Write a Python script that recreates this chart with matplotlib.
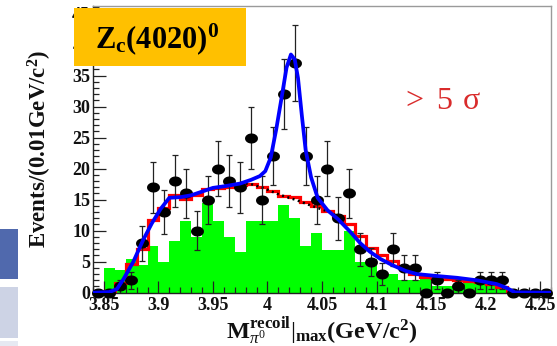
import numpy as np
import matplotlib
matplotlib.use("Agg")
import matplotlib.pyplot as plt
from matplotlib.patches import Rectangle
from matplotlib.ticker import MultipleLocator, FixedLocator, FixedFormatter

plt.rcParams['font.family'] = ['Liberation Serif', 'DejaVu Serif']
plt.rcParams['mathtext.fontset'] = 'custom'
plt.rcParams['mathtext.rm'] = 'Liberation Serif'
plt.rcParams['mathtext.bf'] = 'Liberation Serif:bold'
plt.rcParams['mathtext.it'] = 'Liberation Serif:italic'

# --- binning: 0.01 GeV/c^2 bins from 3.84 to 4.26 ---
bin_lo = 3.84
bin_width = 0.01
n_bins = 42

# observed events per bin
data_counts = [0, 0, 1, 2, 8, 17, 13, 18, 16, 10,
               15, 20, 18, 17, 25, 15, 22, 32, 37, 22,
               15, 20, 12, 16, 7, 5, 3, 7, 4, 4,
               0, 2, 0, 1, 0, 2, 2, 2, 0, 0,
               0, 0]

# sideband / non-resonant component (filled green)
green_counts = [0, 4.0, 3.6, 5.5, 4.5, 7.5, 4.9, 8.4, 11.6, 9.0,
                14.5, 11.6, 9.0, 6.5, 11.6, 11.6, 11.6, 14.1, 12.0, 7.5,
                9.6, 6.9, 6.9, 10.0, 4.9, 5.5, 3.0, 3.0, 2.0, 2.0,
                2.3, 1.0, 1.0, 1.0, 1.5, 1.5, 1.5, 1.0, 0, 0,
                0, 0]

# total background histogram (red outline)
red_counts = [0, 0.2, 1.5, 4.6, 7.1, 11.7, 13.7, 15.7, 15.1, 15.7,
              16.7, 16.8, 17.0, 17.4, 17.6, 17.1, 16.4, 15.6, 15.5, 14.7,
              14.0, 13.2, 12.3, 11.0, 9.2, 7.2, 6.0, 5.1, 4.1, 3.0,
              2.6, 2.4, 2.2, 2.1, 1.9, 1.7, 1.4, 0.9, 0, 0,
              0, 0]

# fit result: signal + background (blue)
fit_x = [3.840, 3.855, 3.862, 3.868, 3.877, 3.886, 3.894, 3.902, 3.910, 3.920,
         3.930, 3.940, 3.950, 3.962, 3.975, 3.985, 3.993, 3.998, 4.003, 4.008,
         4.013, 4.0175, 4.0215, 4.025, 4.028, 4.0315, 4.035, 4.040, 4.046, 4.055,
         4.065, 4.076, 4.085, 4.094, 4.104, 4.115, 4.127, 4.137, 4.155, 4.174,
         4.192, 4.210, 4.219, 4.227, 4.260]
fit_y = [0.0, 0.1, 0.6, 2.2, 5.0, 8.5, 11.2, 13.5, 15.3, 15.4,
         15.7, 16.3, 16.9, 17.2, 17.6, 18.2, 18.8, 19.6, 21.8, 26.3,
         31.5, 36.3, 38.4, 37.6, 34.6, 28.6, 23.0, 18.6, 15.3, 13.3,
         11.8, 9.8, 8.0, 6.6, 5.4, 4.4, 3.5, 3.0, 2.7, 2.4,
         2.0, 1.4, 0.8, 0.05, 0.0]

# background-only fit curve (black dotted)
bkg_x = [3.975, 3.985, 3.996, 4.011, 4.027, 4.039, 4.057, 4.067]
bkg_y = [17.7, 17.5, 16.9, 15.8, 14.9, 14.1, 13.0, 12.1]

x_ticks = [3.85, 3.90, 3.95, 4.00, 4.05, 4.10, 4.15, 4.20, 4.25]
x_tick_labels = ["3.85", "3.9", "3.95", "4", "4.05", "4.1", "4.15", "4.2", "4.25"]
y_ticks = [0, 5, 10, 15, 20, 25, 30, 35, 40, 45]

edges = bin_lo + bin_width * np.arange(n_bins + 1)
centers = 0.5 * (edges[:-1] + edges[1:])
counts = np.array(data_counts, dtype=float)

W, H = 557, 346
fig = plt.figure(figsize=(W / 100, H / 100), dpi=100)
fig.patch.set_facecolor('white')

ax_l, ax_r, ax_t, ax_b = 93, 551, 5.5, 292.7
ax = fig.add_axes([ax_l / W, 1 - ax_b / H, (ax_r - ax_l) / W, (ax_b - ax_t) / H])

ax.stairs(green_counts, edges, fill=True, color='#00FF00', lw=0, zorder=1)
ax.stairs(red_counts, edges, color='#FF0000', lw=2.3, zorder=2)
ax.plot(bkg_x, bkg_y, color='black', lw=1.8, ls=(0, (0.8, 1.4)), zorder=3)

# data points with Poisson errors (no bar for empty bins)
yerr = np.sqrt(counts)
mask = counts > 0
ax.errorbar(centers[mask], counts[mask], yerr=yerr[mask], fmt='none',
            ecolor='#222222', elinewidth=0.9, capsize=2.2, capthick=0.9, zorder=4)
t = np.linspace(0, 2 * np.pi, 40)
ellipse = np.column_stack([np.cos(t), 0.75 * np.sin(t)])
ax.plot(centers, counts, ls='none', marker=ellipse, markersize=8.3,
        color='black', zorder=5, clip_on=False)

ax.plot(fit_x, fit_y, color='#0000FF', lw=2.7, solid_joinstyle='round',
        solid_capstyle='round', zorder=6)

ax.set_xlim(bin_lo, bin_lo + n_bins * bin_width)
ax.set_ylim(0, 46.3)

ax.xaxis.set_major_locator(FixedLocator(x_ticks))
ax.xaxis.set_major_formatter(FixedFormatter(x_tick_labels))
ax.xaxis.set_minor_locator(MultipleLocator(0.01))
ax.yaxis.set_major_locator(FixedLocator(y_ticks))
ax.yaxis.set_minor_locator(MultipleLocator(1))

ax.tick_params(which='both', direction='in', top=False, right=False,
               colors='#222222', width=0.9)
ax.tick_params(which='major', length=9)
ax.tick_params(which='minor', length=4.5)
ax.tick_params(axis='y', which='major', pad=2)
ax.tick_params(axis='x', which='major', pad=3)
for lab in ax.get_xticklabels() + ax.get_yticklabels():
    lab.set_fontweight('bold')
    lab.set_fontsize(13)
    lab.set_color('#111111')

for s in ('left', 'bottom'):
    ax.spines[s].set_color('#222222')
    ax.spines[s].set_linewidth(1.0)
for s in ('top', 'right'):
    ax.spines[s].set_color('#9a9a9a')
    ax.spines[s].set_linewidth(1.0)

fig.text(40 / W, 1 - 149 / H, r'$\mathbf{Events/(0.01GeV/c^{2})}$',
         rotation=90, ha='center', va='center', fontsize=16.5, color='#111111')
fig.text(322 / W, 1 - 331 / H,
         r'$\mathbf{M}_{\pi^{0}}^{\mathbf{recoil}}|_{\mathbf{max}}\mathbf{(GeV/c^{2})}$',
         ha='center', va='center', fontsize=17.5, color='#111111')

# title badge
fig.add_artist(Rectangle((74 / W, 1 - 66 / H), (246 - 74) / W, (66 - 8) / H,
                         transform=fig.transFigure, facecolor='#FFC000',
                         edgecolor='none', zorder=10))
fig.text(95 / W, 1 - 48 / H, r'$\mathbf{Z_{c}(4020)^{0}}$', ha='left',
         va='baseline', fontsize=22, color='black', zorder=11)

# significance note
for s, px in (('>', 405), ('5', 436), ('σ', 463)):
    fig.text(px / W, 1 - 109 / H, s, ha='left', va='baseline',
             fontsize=23, color='#D92B2B')

# side panels of the slide
fig.add_artist(Rectangle((0, 1 - 279 / H), 18 / W, (279 - 229) / H,
                         transform=fig.transFigure, facecolor='#5069AD',
                         edgecolor='none', zorder=10))
fig.add_artist(Rectangle((0, 1 - 338 / H), 18 / W, (338 - 287) / H,
                         transform=fig.transFigure, facecolor='#CDD3E5',
                         edgecolor='none', zorder=10))
fig.add_artist(Rectangle((0, 0), 18 / W, (346 - 341) / H,
                         transform=fig.transFigure, facecolor='#E6E9F2',
                         edgecolor='none', zorder=10))

fig.savefig('out.png', dpi=100)
